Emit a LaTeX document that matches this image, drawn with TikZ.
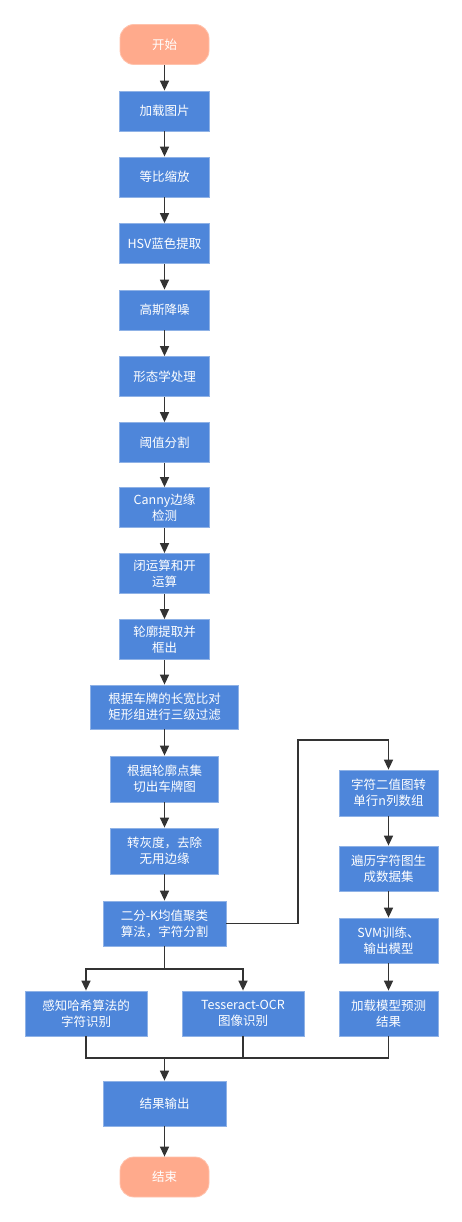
\documentclass[tikz,border=0pt]{standalone}
\usepackage{fontspec}
\setmainfont{Noto Sans CJK SC}
\usetikzlibrary{arrows.meta}
\definecolor{boxblue}{HTML}{4E86DA}
\definecolor{boxedge}{HTML}{8FB2E6}
\definecolor{termfill}{HTML}{FFAA8C}
\definecolor{termedge}{HTML}{FFC2AC}
\definecolor{linec}{HTML}{333333}
\tikzset{
  stepbox/.style={rectangle, fill=boxblue, draw=boxedge, line width=0.8pt, text=white,
    font=\fontsize{12.5}{16}\selectfont, align=center, inner sep=0pt},
  termbox/.style={rectangle, rounded corners=14pt, fill=termfill, draw=termedge, line width=0.8pt,
    text=white, font=\fontsize{12.5}{16}\selectfont, align=center, inner sep=0pt,
    minimum width=89pt, minimum height=40pt},
  arr/.style={draw=linec, line width=1.5pt, -{Triangle[length=10pt,width=9pt]}},
  ln/.style={draw=linec, line width=1.5pt},
}
\begin{document}
\begin{tikzpicture}[x=1pt,y=-1pt]
\useasboundingbox (0,0) rectangle (462,1222);
\fill[white] (0,0) rectangle (462,1222);
\node[termbox] (start) at (164.5,44.5) {开始};
\node[stepbox, minimum width=90pt, minimum height=40pt] (n1) at (164.5,111) {加载图片};
\node[stepbox, minimum width=90pt, minimum height=40pt] (n2) at (164.5,177) {等比缩放};
\node[stepbox, minimum width=90pt, minimum height=40pt] (n3) at (164.5,243.5) {HSV蓝色提取};
\node[stepbox, minimum width=90pt, minimum height=40pt] (n4) at (164.5,310) {高斯降噪};
\node[stepbox, minimum width=90pt, minimum height=40pt] (n5) at (164.5,376.5) {形态学处理};
\node[stepbox, minimum width=90pt, minimum height=40pt] (n6) at (164.5,442.5) {阈值分割};
\node[stepbox, minimum width=90pt, minimum height=40pt] (n7) at (164.5,507.5) {Canny边缘\\检测};
\node[stepbox, minimum width=90pt, minimum height=40pt] (n8) at (164.5,573.5) {闭运算和开\\运算};
\node[stepbox, minimum width=90pt, minimum height=40pt] (n9) at (164.5,639.5) {轮廓提取并\\框出};
\node[stepbox, minimum width=148pt, minimum height=44pt] (n10) at (164.5,707) {根据车牌的长宽比对\\矩形组进行三级过滤};
\node[stepbox, minimum width=108pt, minimum height=46pt] (n11) at (164.5,779) {根据轮廓点集\\切出车牌图};
\node[stepbox, minimum width=108pt, minimum height=46pt] (n12) at (164.5,851) {转灰度，去除\\无用边缘};
\node[stepbox, minimum width=123pt, minimum height=45pt] (n13) at (164.5,923.5) {二分-K均值聚类\\算法，字符分割};
\node[stepbox, minimum width=99pt, minimum height=46pt] (r1) at (388.5,793) {字符二值图转\\单行n列数组};
\node[stepbox, minimum width=99pt, minimum height=45pt] (r2) at (388.5,868.5) {遍历字符图生\\成数据集};
\node[stepbox, minimum width=99pt, minimum height=45pt] (r3) at (388.5,940.5) {SVM训练、\\输出模型};
\node[stepbox, minimum width=99pt, minimum height=45pt] (r4) at (388.5,1013.5) {加载模型预测\\结果};
\node[stepbox, minimum width=122pt, minimum height=45pt] (b1) at (86,1013.5) {感知哈希算法的\\字符识别};
\node[stepbox, minimum width=122pt, minimum height=45pt] (b2) at (243,1013.5) {Tesseract-OCR\\图像识别};
\node[stepbox, minimum width=123pt, minimum height=45pt] (out) at (164.5,1103.5) {结果输出};
\node[termbox] (end) at (164.5,1177) {结束};
\draw[arr] (start) -- (n1);
\draw[arr] (n1) -- (n2);
\draw[arr] (n2) -- (n3);
\draw[arr] (n3) -- (n4);
\draw[arr] (n4) -- (n5);
\draw[arr] (n5) -- (n6);
\draw[arr] (n6) -- (n7);
\draw[arr] (n7) -- (n8);
\draw[arr] (n8) -- (n9);
\draw[arr] (n9) -- (n10);
\draw[arr] (n10) -- (n11);
\draw[arr] (n11) -- (n12);
\draw[arr] (n12) -- (n13);
\coordinate (c1) at (298,740);
\draw[arr] (n13.east) -| (c1) -| (r1.north);
\draw[arr] (r1) -- (r2);
\draw[arr] (r2) -- (r3);
\draw[arr] (r3) -- (r4);
\coordinate (s) at (164.5,969);
\draw[ln] (n13.south) -- (s);
\draw[arr] (s) -| (b1.north);
\draw[arr] (s) -| (b2.north);
\coordinate (m) at (164.5,1058);
\draw[ln] (b1.south) |- (m);
\draw[ln] (b2.south) |- (m);
\draw[ln] (r4.south) |- (m);
\draw[arr] (m) -- (out.north);
\draw[arr] (out) -- (end);
\end{tikzpicture}
\end{document}
